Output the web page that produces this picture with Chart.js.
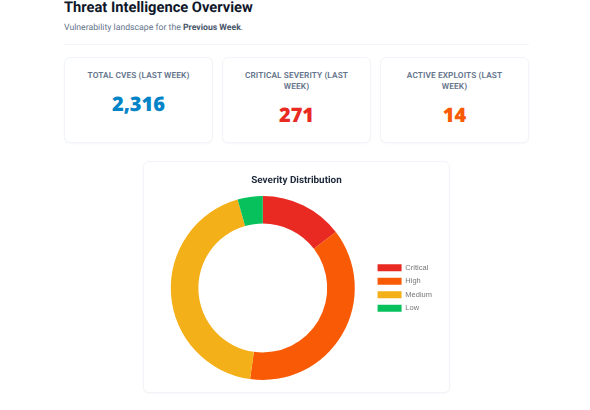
<!DOCTYPE html>
<html><head><meta charset="utf-8">
<script src="https://cdn.jsdelivr.net/npm/chart.js@4"></script>
<style>
html,body{margin:0;padding:0;background:#fff;width:590px;height:410px;overflow:hidden;font-family:Roboto,sans-serif;text-rendering:geometricPrecision}
.abs{position:absolute}
h1{left:64px;top:-4px;margin:0;font:700 14.7px/22px Roboto,sans-serif;color:#0f172a;white-space:nowrap;position:absolute}
.sub{left:64px;top:21px;font-size:8.7px;line-height:14px;color:#64748b;white-space:nowrap}
.sub b{color:#475569}
.rule{left:64px;top:44px;width:465px;height:1px;background:#f1f5f9}
.card{box-sizing:border-box;background:#fff;border:1px solid #f1f5f9;border-radius:6px;box-shadow:0 1px 2px rgba(0,0,0,.03)}
.stat{top:57px;width:149px;height:86px;text-align:center;padding:13px 14px 0}
.lab{font-size:8.3px;line-height:11px;font-weight:600;color:#64748b;letter-spacing:.1px}
.val{font:800 20px/26px "Open Sans",sans-serif;margin-top:9px}
#chartCard{left:143px;top:161px;width:307px;height:232px}
#ttl{position:absolute;left:0;right:0;top:12px;text-align:center;font:700 9.9px/14px Roboto,sans-serif;color:#1e293b}
#wrap{position:absolute;left:0;top:0;width:305px;height:230px}
</style></head><body>
<h1>Threat Intelligence Overview</h1>
<div class="abs sub">Vulnerability landscape for the <b>Previous Week</b>.</div>
<div class="abs rule"></div>
<div id="c1" class="abs card stat" style="left:64px"><div class="lab">TOTAL CVES (LAST WEEK)</div><div class="val" style="color:#0284c7">2,316</div></div>
<div id="c2" class="abs card stat" style="left:222px"><div class="lab">CRITICAL SEVERITY (LAST WEEK)</div><div class="val" style="color:#e92a22">271</div></div>
<div id="c3" class="abs card stat" style="left:380px"><div class="lab">ACTIVE EXPLOITS (LAST WEEK)</div><div class="val" style="color:#f95a05">14</div></div>
<div id="chartCard" class="abs card"><div id="wrap"><canvas id="c"></canvas></div><div id="ttl">Severity Distribution</div></div>
<script>
const categories = ["Critical","High","Medium","Low"];
const severityCounts = [271,698,805,82];
const sliceColors = ["#e92a22","#f95a05","#f4b018","#06c15c"];
new Chart(document.getElementById('c'),{
 type:'doughnut',
 data:{labels:categories,datasets:[{data:severityCounts,backgroundColor:sliceColors,borderWidth:0}]},
 options:{responsive:true,maintainAspectRatio:false,animation:false,cutout:'70%',
  layout:{padding:{top:34,bottom:12,left:10,right:7}},
  plugins:{title:{display:false},tooltip:{enabled:false},
   legend:{position:'right',labels:{boxWidth:24,boxHeight:7,padding:6,color:'#777',font:{size:7.5,family:'"Liberation Sans",Arial,sans-serif'}}}}}
});
</script>
</body></html>
